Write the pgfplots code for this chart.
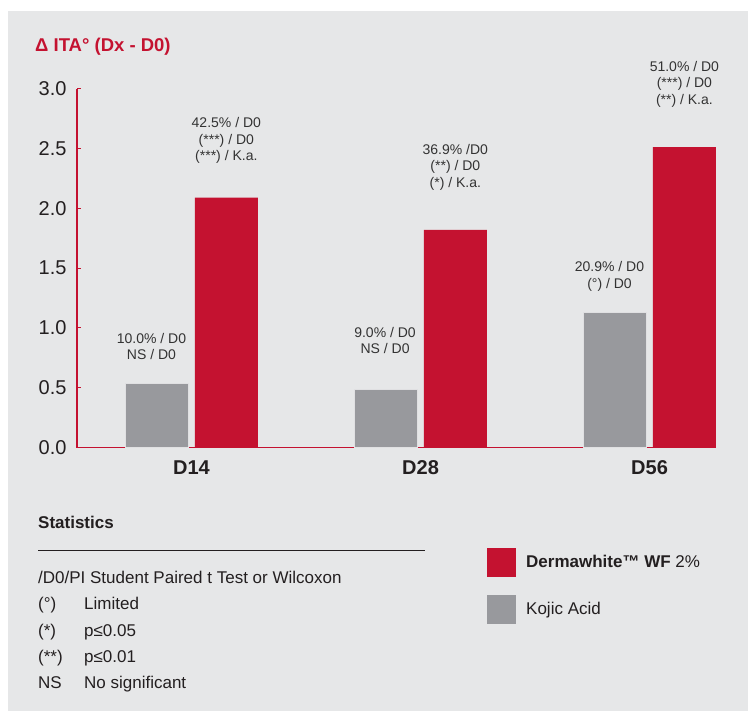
\documentclass[border=0pt]{standalone}
\usepackage{fontspec}
\setmainfont{Liberation Sans}
\usepackage{pgfplots}
\pgfplotsset{compat=1.18}
\definecolor{brandred}{HTML}{C41230}
\definecolor{bargray}{HTML}{98999D}
\definecolor{panel}{HTML}{E6E7E8}
\definecolor{txt}{HTML}{231F20}
\definecolor{anno}{HTML}{333333}
\begin{document}
\begin{tikzpicture}[x=1pt,y=1pt]
\fill[white] (0,0) rectangle (749,711);
\fill[panel] (8,0) rectangle (748,700);
% title
\node[anchor=base west, inner sep=0, text=brandred, font=\fontsize{18.5}{22}\selectfont\bfseries] at (35,659) {Δ ITA° (Dx - D0)};
\begin{axis}[
  at={(77pt,263.3pt)}, anchor=south west,
  scale only axis, width=639pt, height=359.1pt,
  xmin=-0.5, xmax=2.29, ymin=0, ymax=3,
  clip=false,
  axis x line*=bottom, axis y line*=left,
  axis line style={draw=brandred, line width=1.1pt, -},
  xtick={0,1,2}, xticklabels={D14,D28,D56},
  x tick style={draw=none},
  xticklabel style={anchor=center, yshift=-19.5pt, text=txt, font=\fontsize{20}{24}\selectfont\bfseries},
  ytick={0,0.5,1,1.5,2,2.5,3},
  y tick style={draw=brandred, line width=1pt},
  tick align=inside, major tick length=4pt,
  yticklabel style={text=txt, font=\fontsize{20}{24}\selectfont, xshift=-7pt,
    /pgf/number format/.cd, fixed, fixed zerofill, precision=1, assume math mode=true},
]
\addplot[ybar, bar width=0.275, bar shift=-0.152, fill=bargray, draw=white!70!bargray, line width=0.6pt] coordinates {(0,0.54) (1,0.49) (2,1.13)};
\addplot[ybar, bar width=0.275, bar shift=0.152, fill=brandred, draw=none] coordinates {(0,2.09) (1,1.82) (2,2.51)};
% annotations
\tikzset{ann/.style={align=center, text=anno, inner sep=0, font=\fontsize{14}{16.5}\selectfont}}
\node[ann] at (axis cs:0.152,2.566) {42.5\% / D0\\(***) / D0\\(***) / K.a.};
\node[ann] at (axis cs:1.152,2.345) {36.9\% /D0\\(**) / D0\\(*) / K.a.};
\node[ann] at (axis cs:2.152,3.038) {51.0\% / D0\\(***) / D0\\(**) / K.a.};
\node[ann] at (axis cs:-0.175,0.845) {10.0\% / D0\\NS / D0};
\node[ann] at (axis cs:0.845,0.896) {9.0\% / D0\\NS / D0};
\node[ann] at (axis cs:1.825,1.430) {20.9\% / D0\\(°) / D0};
\end{axis}
% statistics
\begin{scope}[every node/.style={anchor=base west, inner sep=0, text=txt, font=\fontsize{17}{20}\selectfont}]
\node[font=\fontsize{17}{20}\selectfont\bfseries] at (38,182) {Statistics};
\draw[txt, line width=1.3pt] (38,160.3) -- (425,160.3);
\node at (38,127.7) {/D0/PI Student Paired t Test or Wilcoxon};
\node at (38,101) {(°)};   \node at (84,101) {Limited};
\node at (38,74) {(*)};    \node at (84,74) {p≤0.05};
\node at (38,48) {(**)};   \node at (84,48) {p≤0.01};
\node at (38,22) {NS};     \node at (84,22) {No significant};
% legend
\fill[brandred] (487,134) rectangle (516,163);
\fill[bargray] (487,87) rectangle (516,116);
\node at (526,143.3) {\textbf{Dermawhite™ WF} 2\%};
\node at (526,96) {Kojic Acid};
\end{scope}
\end{tikzpicture}
\end{document}
